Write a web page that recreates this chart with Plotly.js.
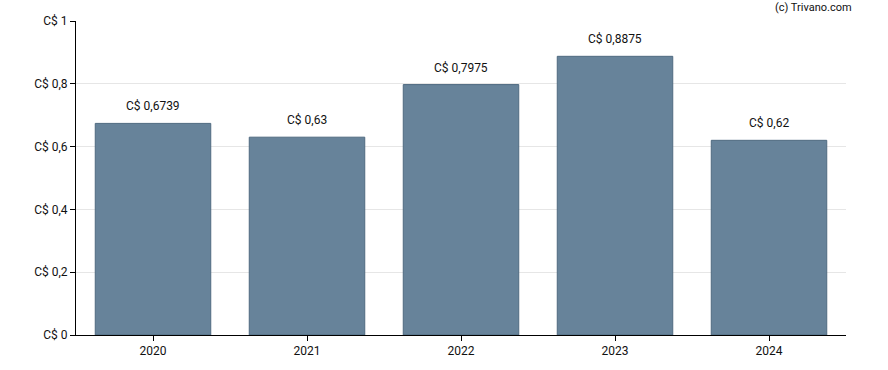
<!DOCTYPE html>
<html>
<head>
<meta charset="utf-8">
<script src="https://cdn.plot.ly/plotly-3.0.1.min.js"></script>
<style>html,body{margin:0;padding:0;background:#fff;}#chart{width:888px;height:370px;}</style>
</head>
<body>
<div id="chart"></div>
<script>
const years = ["2020", "2021", "2022", "2023", "2024"];
const values = [0.6739, 0.63, 0.7975, 0.8875, 0.62];
const labels = ["C$ 0,6739", "C$ 0,63", "C$ 0,7975", "C$ 0,8875", "C$ 0,62"];
const yTickVals = [0, 0.2, 0.4, 0.6, 0.8, 1];
const yTickText = ["C$ 0", "C$ 0,2", "C$ 0,4", "C$ 0,6", "C$ 0,8", "C$ 1"];

const font = {family: "Roboto, Arial, sans-serif", size: 12, color: "#111"};

const trace = {
  type: "bar",
  x: years,
  y: values,
  marker: {color: "#67839a", line: {color: "#4f6a80", width: 1}},
  hoverinfo: "none"
};

const annotations = years.map((y, i) => ({
  x: i, y: values[i], text: labels[i], showarrow: false,
  xref: "x", yref: "y", yanchor: "bottom", yshift: 8,
  font: font
}));
annotations.push({
  xref: "paper", yref: "paper", x: 1.0, y: 1, xanchor: "right", yanchor: "bottom",
  xshift: 8, yshift: 5,
  text: "(c) Trivano.com", showarrow: false,
  font: {family: "Roboto, Arial, sans-serif", size: 11, color: "#111"}
});

const layout = {
  width: 888, height: 370,
  margin: {l: 76, r: 42, t: 21, b: 35},
  paper_bgcolor: "#fff", plot_bgcolor: "#fff",
  font: font,
  bargap: 0.25,
  showlegend: false,
  xaxis: {
    type: "category",
    range: [-0.5, 4.5],
    showline: true, linecolor: "#000", linewidth: 1,
    ticks: "outside", ticklen: 5, tickcolor: "#000",
    showgrid: false, zeroline: false,
    tickfont: font
  },
  yaxis: {
    range: [0, 1],
    tickvals: yTickVals, ticktext: yTickText,
    showline: true, linecolor: "#000", linewidth: 1,
    ticks: "outside", ticklen: 5, tickcolor: "#000",
    showgrid: true, gridcolor: "#e6e6e6", gridwidth: 1,
    zeroline: false,
    tickfont: font
  },
  annotations: annotations
};

Plotly.newPlot("chart", [trace], layout, {displayModeBar: false, staticPlot: true});
</script>
</body>
</html>
